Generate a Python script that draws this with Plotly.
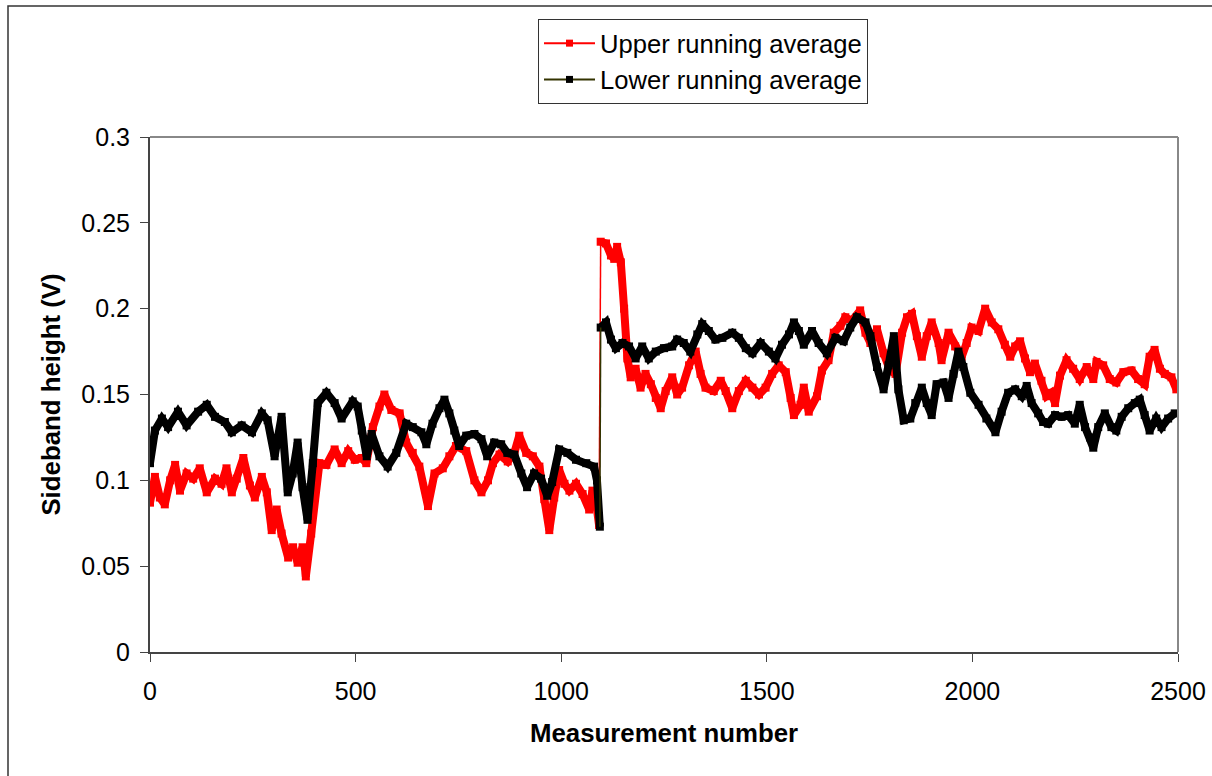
import plotly.graph_objects as go
import numpy as np

# ---------------- data ----------------
upper_x = [0, 12, 24, 36, 49, 61, 73, 89, 105, 121, 138, 158, 174, 186, 199, 211, 227, 243, 255, 272,
           284, 296, 308, 320, 336, 348, 359, 371, 379, 392, 400, 412, 429, 449, 466, 482, 498, 515, 526, 542,
           558, 570, 587, 607, 623, 639, 655, 676, 692, 712, 728, 744, 769, 789, 806, 822, 834, 850, 870, 886,
           898, 915, 931, 947, 959, 971, 983, 995, 1008, 1020, 1036, 1052, 1068, 1076, 1086, 1092,
           1096, 1109, 1121, 1129, 1136, 1145, 1153, 1161, 1169, 1181, 1193, 1205, 1218, 1230, 1242, 1254,
           1270, 1282, 1294, 1311, 1327, 1339, 1351, 1371, 1388, 1400, 1416, 1432, 1449, 1465, 1481, 1497,
           1513, 1529, 1546, 1558, 1566, 1582, 1590, 1602, 1622, 1634, 1650, 1663, 1679, 1691, 1707, 1727,
           1740, 1752, 1768, 1784, 1800, 1813, 1829, 1841, 1853, 1865, 1877, 1889, 1901, 1918, 1925, 1942,
           1958, 1974, 1986, 1998, 2015, 2031, 2047, 2063, 2079, 2092, 2104, 2116, 2128, 2140, 2152, 2168,
           2180, 2192, 2201, 2213, 2229, 2245, 2261, 2278, 2294, 2302, 2318, 2334, 2350, 2367, 2387, 2403,
           2419, 2431, 2443, 2456, 2468, 2484, 2496]
upper_y = [0.087, 0.102, 0.090, 0.086, 0.100, 0.109, 0.094, 0.104, 0.101, 0.107, 0.093, 0.101, 0.098, 0.107,
           0.093, 0.101, 0.113, 0.097, 0.090, 0.102, 0.093, 0.071, 0.083, 0.069, 0.055, 0.061, 0.052, 0.061,
           0.044, 0.069, 0.090, 0.110, 0.109, 0.118, 0.110, 0.117, 0.112, 0.113, 0.110, 0.131, 0.143, 0.150,
           0.141, 0.139, 0.122, 0.116, 0.108, 0.085, 0.104, 0.107, 0.114, 0.120, 0.117, 0.100, 0.093, 0.100,
           0.110, 0.115, 0.111, 0.116, 0.126, 0.116, 0.114, 0.108, 0.089, 0.071, 0.090, 0.106, 0.098, 0.094,
           0.098, 0.092, 0.083, 0.094, 0.085, 0.074,
           0.239, 0.238, 0.231, 0.229, 0.236, 0.227, 0.200, 0.171, 0.160, 0.165, 0.154, 0.162, 0.156, 0.148,
           0.142, 0.152, 0.160, 0.150, 0.154, 0.167, 0.175, 0.162, 0.154, 0.152, 0.158, 0.152, 0.142, 0.152,
           0.158, 0.154, 0.150, 0.154, 0.162, 0.167, 0.163, 0.148, 0.138, 0.144, 0.154, 0.140, 0.149, 0.164,
           0.170, 0.186, 0.190, 0.195, 0.193, 0.199, 0.186, 0.180, 0.188, 0.174, 0.164, 0.162, 0.186, 0.195,
           0.197, 0.184, 0.172, 0.184, 0.192, 0.180, 0.170, 0.186, 0.178, 0.172, 0.180, 0.189, 0.187, 0.200,
           0.192, 0.188, 0.179, 0.172, 0.178, 0.181, 0.171, 0.163, 0.168, 0.158, 0.149, 0.151, 0.145, 0.161,
           0.170, 0.165, 0.159, 0.166, 0.159, 0.169, 0.167, 0.159, 0.157, 0.163, 0.164, 0.159, 0.156, 0.172,
           0.176, 0.165, 0.162, 0.160, 0.153]

lower_x = [0, 12, 29, 44, 68, 89, 117, 138, 158, 182, 199, 223, 248, 272, 286, 303, 320, 335, 347, 359,
           371, 383, 396, 408, 429, 449, 466, 493, 505, 515, 527, 539, 558, 578, 599, 623, 639, 660, 672, 687,
           704, 716, 728, 740, 752, 769, 789, 806, 820, 837, 854, 869, 886, 903, 917, 934, 951, 966, 978, 995,
           1015, 1036, 1061, 1080, 1087, 1094,
           1096, 1109, 1121, 1133, 1149, 1165, 1181, 1197, 1213, 1230, 1250, 1270, 1282, 1298, 1314, 1331,
           1343, 1359, 1375, 1392, 1416, 1432, 1449, 1465, 1485, 1505, 1521, 1537, 1554, 1566, 1578, 1590,
           1610, 1626, 1646, 1667, 1687, 1703, 1719, 1740, 1752, 1768, 1784, 1796, 1809, 1820, 1833, 1849,
           1861, 1877, 1889, 1901, 1913, 1930, 1942, 1954, 1966, 1978, 1995, 2015, 2034, 2056, 2071, 2087,
           2104, 2120, 2132, 2144, 2160, 2172, 2184, 2201, 2217, 2233, 2249, 2261, 2274, 2286, 2294, 2306,
           2322, 2338, 2350, 2363, 2379, 2395, 2407, 2419, 2431, 2447, 2460, 2476, 2492]
lower_y = [0.110, 0.129, 0.136, 0.131, 0.140, 0.132, 0.140, 0.144, 0.137, 0.134, 0.128, 0.132, 0.128, 0.139,
           0.135, 0.114, 0.137, 0.093, 0.104, 0.122, 0.096, 0.077, 0.110, 0.145, 0.151, 0.145, 0.136, 0.146,
           0.143, 0.129, 0.114, 0.127, 0.114, 0.108, 0.116, 0.133, 0.131, 0.128, 0.121, 0.133, 0.142, 0.147,
           0.139, 0.129, 0.120, 0.126, 0.127, 0.124, 0.114, 0.122, 0.121, 0.116, 0.115, 0.104, 0.096, 0.104,
           0.101, 0.091, 0.099, 0.118, 0.116, 0.112, 0.110, 0.108, 0.100, 0.073,
           0.189, 0.192, 0.182, 0.177, 0.180, 0.178, 0.171, 0.178, 0.171, 0.175, 0.177, 0.178, 0.182, 0.180,
           0.175, 0.185, 0.191, 0.187, 0.182, 0.183, 0.186, 0.183, 0.177, 0.174, 0.180, 0.175, 0.171, 0.179,
           0.185, 0.192, 0.187, 0.179, 0.187, 0.180, 0.174, 0.183, 0.181, 0.189, 0.195, 0.192, 0.184, 0.166,
           0.153, 0.167, 0.184, 0.153, 0.135, 0.136, 0.145, 0.154, 0.145, 0.138, 0.156, 0.157, 0.148, 0.162,
           0.175, 0.166, 0.151, 0.144, 0.136, 0.128, 0.140, 0.151, 0.153, 0.149, 0.155, 0.145, 0.139, 0.134,
           0.133, 0.138, 0.137, 0.138, 0.133, 0.144, 0.131, 0.125, 0.119, 0.131, 0.139, 0.131, 0.129, 0.137,
           0.142, 0.145, 0.147, 0.138, 0.129, 0.136, 0.131, 0.136, 0.139]

upper_name = "Upper running average"
lower_name = "Lower running average"
break_at = 1095          # measurement where the step occurs
x_ticks = [0, 500, 1000, 1500, 2000, 2500]
y_ticks = [0, 0.05, 0.1, 0.15, 0.2, 0.25, 0.3]

RED = "#FF0000"
BLACK = "#000000"
OLIVE = "#333300"
FONT = "Liberation Sans, Arial, sans-serif"

W, H = 1212, 776
ML, MR, MT, MB = 150, 34, 137, 124
PW, PH = W - ML - MR, H - MT - MB

fig = go.Figure()


def add_series(xs, ys, band_color, jump_color, group):
    xs = np.array(xs, dtype=float)
    ys = np.array(ys, dtype=float)
    m1 = xs < break_at
    m2 = ~m1
    for m in (m1, m2):
        fig.add_trace(go.Scatter(
            x=xs[m], y=ys[m], mode="lines+markers",
            line=dict(color=band_color, width=8),
            marker=dict(symbol="square", size=8, color=band_color),
            showlegend=False, legendgroup=group, hoverinfo="skip"))
    i1 = np.where(m1)[0][-1]
    i2 = np.where(m2)[0][0]
    fig.add_trace(go.Scatter(
        x=[xs[i1], xs[i2]], y=[ys[i1], ys[i2]], mode="lines",
        line=dict(color=jump_color, width=1.5),
        showlegend=False, legendgroup=group, hoverinfo="skip"))


add_series(upper_x, upper_y, RED, RED, "upper")
add_series(lower_x, lower_y, BLACK, OLIVE, "lower")

# legend entries
fig.add_trace(go.Scatter(x=[None], y=[None], mode="lines+markers", name=upper_name,
                         line=dict(color=RED, width=2),
                         marker=dict(symbol="square", size=7, color=RED), legendgroup="upper"))
fig.add_trace(go.Scatter(x=[None], y=[None], mode="lines+markers", name=lower_name,
                         line=dict(color=OLIVE, width=2),
                         marker=dict(symbol="square", size=7, color=BLACK), legendgroup="lower"))

fig.update_layout(
    width=W, height=H,
    margin=dict(l=ML, r=MR, t=MT, b=MB, autoexpand=False),
    paper_bgcolor="white", plot_bgcolor="white",
    font=dict(family=FONT, size=25, color="black"),
    showlegend=True,
    legend=dict(x=(538 - ML) / PW, y=(H - MB - 19) / PH, xanchor="left", yanchor="top",
                bordercolor="#333333", borderwidth=1, bgcolor="white",
                font=dict(size=25.6), tracegroupgap=2, itemwidth=51,
                traceorder="normal"),
    xaxis=dict(range=[0, 2500], tickvals=x_ticks, showgrid=False, zeroline=False,
               showline=True, linecolor="#444444", linewidth=2,
               ticks="outside", ticklen=8, tickcolor="#444444", tickwidth=1,
               ticklabelstandoff=8, tickfont=dict(size=25), automargin=False,
               title=dict(text="<b>Measurement number</b>", font=dict(size=25.8), standoff=20)),
    yaxis=dict(range=[0, 0.3], tickvals=y_ticks, showgrid=False, zeroline=False,
               showline=True, linecolor="#444444", linewidth=2,
               ticks="outside", ticklen=8, tickcolor="#444444", tickwidth=1,
               ticklabelstandoff=5, tickfont=dict(size=25), automargin=False,
               title=dict(text="<b>Sideband height (V)</b>", font=dict(size=25.8), standoff=13)),
    shapes=[
        # plot area top and right borders
        dict(type="line", xref="paper", yref="paper", x0=0, x1=1, y0=1, y1=1,
             line=dict(color="#888888", width=2)),
        dict(type="line", xref="paper", yref="paper", x0=1, x1=1, y0=0, y1=1,
             line=dict(color="#888888", width=2)),
        # outer chart border (left and top visible)
        dict(type="rect", xref="paper", yref="paper",
             x0=(8 - ML) / PW, x1=(W + 20 - ML) / PW,
             y0=(H - MB - H - 20) / PH, y1=(H - MB - 6) / PH,
             line=dict(color="#333333", width=1.5), layer="below"),
    ],
)

fig.write_html("out.html")
